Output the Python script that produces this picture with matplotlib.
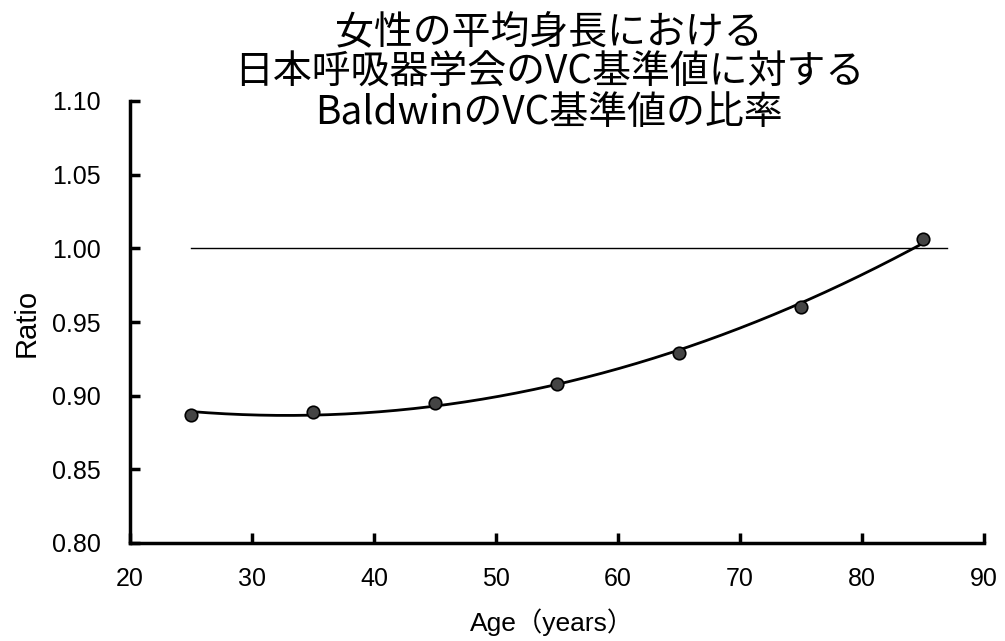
import numpy as np
import matplotlib
matplotlib.use("Agg")
import matplotlib.pyplot as plt

# Data
ages = [25, 35, 45, 55, 65, 75, 85]
ratios = [0.887, 0.889, 0.895, 0.908, 0.929, 0.960, 1.006]
ref_x = [25, 87]
ref_y = [1.0, 1.0]
xticks = [20, 30, 40, 50, 60, 70, 80, 90]
yticks = [0.80, 0.85, 0.90, 0.95, 1.00, 1.05, 1.10]
title_lines = ["女性の平均身長における", "日本呼吸器学会のVC基準値に対する", "BaldwinのVC基準値の比率"]
xlabel = "Age（years）"
ylabel = "Ratio"

plt.rcParams['font.family'] = ['Liberation Sans', 'Noto Sans CJK JP', 'DejaVu Sans']

fig = plt.figure(figsize=(10.05, 6.41), dpi=100)
ax = fig.add_axes([130/1005, 1 - 543/641, (984-130)/1005, (543-101)/641])

# fitted trend curve (quadratic fit of the data)
coef = np.polyfit(ages, ratios, 2)
xs = np.linspace(ages[0], ages[-1], 300)
ax.plot(xs, np.polyval(coef, xs), color='black', lw=2.0, zorder=2)
ax.plot(ref_x, ref_y, color='black', lw=1.0, zorder=1)
ax.plot(ages, ratios, 'o', ms=9, mfc='#444444', mec='black', mew=1.2, zorder=3)

ax.set_xlim(20, 90)
ax.set_ylim(0.80, 1.10)
ax.set_xticks(xticks)
ax.set_yticks(yticks)
ax.set_xticklabels([str(v) for v in xticks])
ax.set_yticklabels([f"{v:.2f}" for v in yticks])
ax.spines['top'].set_visible(False)
ax.spines['right'].set_visible(False)
ax.spines['left'].set_linewidth(2.5)
ax.spines['bottom'].set_linewidth(2.5)
ax.tick_params(direction='in', length=7, width=2.5, labelsize=18)
ax.tick_params(axis='y', pad=21)
ax.tick_params(axis='x', pad=17)

fig.text(27/1005, 1 - 323/641, ylabel, rotation=90, ha='center', va='center', fontsize=21)
fig.text(552/1005, 1 - 622/641, xlabel, ha='center', va='center', fontsize=19)

ys = [33, 73, 113]
for line, y in zip(title_lines, ys):
    fig.text(549/1005, 1 - y/641, line, ha='center', va='center', fontsize=28,
             family=['Noto Sans CJK JP', 'DejaVu Sans'])

fig.savefig("out.png", dpi=100, facecolor='white')
